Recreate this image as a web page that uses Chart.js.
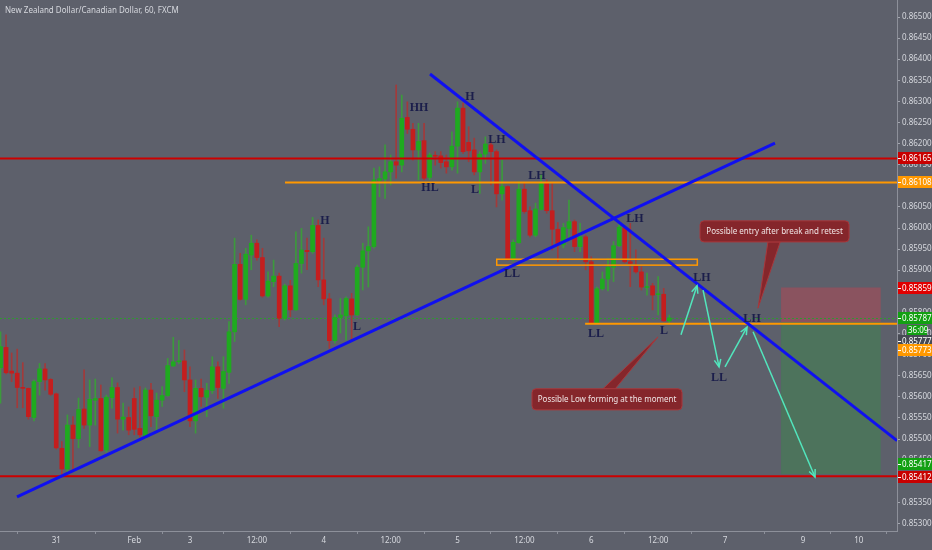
<!DOCTYPE html>
<html>
<head>
<meta charset="utf-8">
<title>NZDCAD 60</title>
<script src="https://cdn.jsdelivr.net/npm/chart.js@4.4.1/dist/chart.umd.min.js"></script>
<style>
  html, body { margin: 0; padding: 0; background: #5d606b; }
  canvas { display: block; }
</style>
</head>
<body>
<canvas id="chart" width="932" height="550"></canvas>
<script>
// x axis: bar index -> day label
const xTickIdx = [10, 24, 34, 46, 58, 70, 82, 94, 106, 118, 130, 144, 154];
const xTickText = ['31', 'Feb', '3', '12:00', '4', '12:00', '5', '12:00', '6', '12:00', '7', '9', '10'];

// y axis ticks
const yTicks = [];
for (let v = 0.853; v < 0.86501; v += 0.0005) yTicks.push(+v.toFixed(5));

// hourly candles
const opens = [
  0.85669, 0.85717, 0.85661, 0.85656, 0.85621, 0.85620, 0.85551, 0.85636, 0.85666, 0.85641,
  0.85607, 0.85478, 0.85429, 0.85533, 0.85501, 0.85571, 0.85533, 0.85592, 0.85596, 0.85474,
  0.85598, 0.85622, 0.85547, 0.85551, 0.85596, 0.85525, 0.85505, 0.85616, 0.85553, 0.85592,
  0.85603, 0.85673, 0.85683, 0.85685, 0.85640, 0.85543, 0.85620, 0.85599, 0.85615, 0.85671,
  0.85620, 0.85658, 0.85754, 0.85914, 0.85831, 0.85936, 0.85964, 0.85930, 0.85839, 0.85873,
  0.85886, 0.85786, 0.85863, 0.85806, 0.85916, 0.85947, 0.85944, 0.86006, 0.85877, 0.85832,
  0.85733, 0.85788, 0.85792, 0.85832, 0.85794, 0.85907, 0.85946, 0.85956, 0.86113, 0.86116,
  0.86133, 0.86157, 0.86149, 0.86262, 0.86234, 0.86185, 0.86207, 0.86120, 0.86172, 0.86171,
  0.86157, 0.86145, 0.86194, 0.86284, 0.86203, 0.86185, 0.86133, 0.86175, 0.86197, 0.86181,
  0.86081, 0.86098, 0.85926, 0.85965, 0.86092, 0.86041, 0.85983, 0.86044, 0.86106, 0.86041,
  0.85997, 0.85960, 0.85999, 0.86015, 0.85956, 0.85979, 0.85920, 0.85775, 0.85856, 0.85879,
  0.85907, 0.85958, 0.86000, 0.85920, 0.85910, 0.85896, 0.85859, 0.85863, 0.85842, 0.85843,
  0.85780
];
const highs = [
  0.85754, 0.85747, 0.85704, 0.85713, 0.85681, 0.85621, 0.85640, 0.85679, 0.85679, 0.85643,
  0.85609, 0.85494, 0.85557, 0.85553, 0.85597, 0.85664, 0.85640, 0.85642, 0.85628, 0.85604,
  0.85645, 0.85633, 0.85585, 0.85576, 0.85621, 0.85624, 0.85621, 0.85632, 0.85609, 0.85624,
  0.85691, 0.85741, 0.85733, 0.85711, 0.85671, 0.85640, 0.85642, 0.85632, 0.85695, 0.85683,
  0.85695, 0.85778, 0.85976, 0.85940, 0.85952, 0.85983, 0.85972, 0.85952, 0.85896, 0.85924,
  0.85893, 0.85867, 0.85876, 0.85991, 0.85999, 0.85976, 0.86025, 0.86019, 0.85976, 0.85845,
  0.85794, 0.85833, 0.85837, 0.85845, 0.85912, 0.85964, 0.86003, 0.86142, 0.86145, 0.86197,
  0.86173, 0.86339, 0.86315, 0.86299, 0.86248, 0.86248, 0.86248, 0.86178, 0.86181, 0.86181,
  0.86173, 0.86228, 0.86299, 0.86296, 0.86240, 0.86213, 0.86181, 0.86216, 0.86205, 0.86185,
  0.86161, 0.86100, 0.85972, 0.86110, 0.86106, 0.86050, 0.86059, 0.86126, 0.86114, 0.86106,
  0.86013, 0.86011, 0.86066, 0.86019, 0.86011, 0.85983, 0.85932, 0.85860, 0.85896, 0.85928,
  0.85968, 0.86015, 0.86005, 0.86011, 0.85948, 0.85908, 0.85893, 0.85869, 0.85885, 0.85857,
  0.85794
];
const lows = [
  0.85585, 0.85654, 0.85636, 0.85574, 0.85574, 0.85547, 0.85543, 0.85604, 0.85616, 0.85603,
  0.85476, 0.85412, 0.85415, 0.85423, 0.85479, 0.85525, 0.85482, 0.85533, 0.85471, 0.85469,
  0.85573, 0.85514, 0.85521, 0.85510, 0.85510, 0.85505, 0.85502, 0.85529, 0.85521, 0.85577,
  0.85601, 0.85672, 0.85679, 0.85612, 0.85529, 0.85514, 0.85577, 0.85553, 0.85608, 0.85596,
  0.85573, 0.85632, 0.85731, 0.85829, 0.85818, 0.85901, 0.85924, 0.85836, 0.85836, 0.85861,
  0.85766, 0.85782, 0.85790, 0.85805, 0.85893, 0.85901, 0.85940, 0.85861, 0.85818, 0.85715,
  0.85727, 0.85751, 0.85735, 0.85735, 0.85792, 0.85853, 0.85860, 0.85952, 0.86074, 0.86070,
  0.86102, 0.86118, 0.86133, 0.86224, 0.86161, 0.86114, 0.86114, 0.86114, 0.86149, 0.86142,
  0.86130, 0.86137, 0.86130, 0.86177, 0.86157, 0.86126, 0.86082, 0.86153, 0.86102, 0.86050,
  0.86066, 0.85924, 0.85922, 0.85964, 0.86035, 0.85979, 0.85979, 0.86043, 0.86035, 0.85948,
  0.85920, 0.85953, 0.85976, 0.85944, 0.85944, 0.85901, 0.85773, 0.85773, 0.85853, 0.85851,
  0.85873, 0.85956, 0.85917, 0.85861, 0.85893, 0.85853, 0.85841, 0.85806, 0.85794, 0.85778,
  0.85774
];
const closes = [
  0.85719, 0.85657, 0.85656, 0.85622, 0.85620, 0.85553, 0.85636, 0.85666, 0.85640, 0.85606,
  0.85479, 0.85429, 0.85533, 0.85501, 0.85570, 0.85533, 0.85594, 0.85596, 0.85472, 0.85599,
  0.85622, 0.85547, 0.85552, 0.85521, 0.85523, 0.85510, 0.85616, 0.85555, 0.85592, 0.85603,
  0.85674, 0.85683, 0.85684, 0.85640, 0.85543, 0.85620, 0.85600, 0.85615, 0.85671, 0.85622,
  0.85660, 0.85754, 0.85914, 0.85831, 0.85938, 0.85964, 0.85930, 0.85839, 0.85874, 0.85886,
  0.85786, 0.85863, 0.85806, 0.85916, 0.85948, 0.85944, 0.86006, 0.85877, 0.85832, 0.85733,
  0.85788, 0.85794, 0.85833, 0.85794, 0.85907, 0.85946, 0.85956, 0.86114, 0.86117, 0.86133,
  0.86157, 0.86149, 0.86260, 0.86234, 0.86185, 0.86205, 0.86118, 0.86173, 0.86170, 0.86155,
  0.86145, 0.86194, 0.86284, 0.86181, 0.86183, 0.86133, 0.86175, 0.86199, 0.86181, 0.86081,
  0.86098, 0.85926, 0.85966, 0.86092, 0.86039, 0.85983, 0.86045, 0.86106, 0.86041, 0.85997,
  0.85960, 0.86001, 0.86015, 0.85956, 0.85979, 0.85920, 0.85774, 0.85856, 0.85879, 0.85907,
  0.85958, 0.86002, 0.85920, 0.85916, 0.85896, 0.85860, 0.85861, 0.85841, 0.85844, 0.85780,
  0.85787
];

// horizontal levels
const redLevels = [0.86165, 0.85412];
const orangeLevels = [0.86108, 0.85773];
const orangeFrom = [51.05, 104.9];       // bar index where each orange level starts
const lastPrice = 0.85787;

// drawn tools, as [bar index, price]
const trendUp = [[2.96, 0.85363], [138.97, 0.86201]];
const trendDown = [[77.07, 0.86365], [160.87, 0.85496]];
const zoneBox = [[89.04, 0.85926], [125.03, 0.85912]];
const stopBox = [[140.05, 0.85859], [157.94, 0.85777]];
const targetBox = [[140.05, 0.85777], [157.94, 0.85417]];
const pathArrows = [
  [[122.1, 0.85747], [124.98, 0.85863]],
  [[126.06, 0.85853], [128.93, 0.85671]],
  [[130.0, 0.85671], [133.95, 0.85765]],
  [[135.03, 0.85754], [146.15, 0.85410]]
];

// swing labels
const swingText = ['H', 'L', 'HH', 'H', 'LH', 'HL', 'L', 'LH', 'LL', 'LH', 'LH', 'LL', 'L', 'LL', 'LH'];
const swingIdx = [58.23, 63.97, 75.1, 84.25, 89.09, 77.07, 85.14, 96.27, 91.78, 113.85, 125.87, 106.85, 119.06, 128.93, 134.85];
const swingPrice = [0.86017, 0.85765, 0.86284, 0.86310, 0.86209, 0.86095, 0.86090, 0.86123, 0.85891, 0.86021, 0.85882, 0.85749, 0.85756, 0.85645, 0.85784];

// callouts: text, box corners, pointer base (two bar indexes), pointer tip
const noteText = ['Possible entry after break and retest', 'Possible Low forming at the moment'];
const noteBox = [[[125.52, 0.86017], [152.26, 0.85967]], [[95.37, 0.85619], [122.29, 0.85569]]];
const noteBase = [[137.7, 139.9], [108.1, 110.3]];
const noteTip = [[135.92, 0.85810], [117.98, 0.85742]];

// right axis price tags
const tagValues = [0.86165, 0.86108, 0.85859, 0.85787, 0.85777, 0.85773, 0.85417, 0.85412];
const countdown = '36:09';

// ---- styles ----
const BG = '#5d606b';
const FONT = '"Noto Sans", "Open Sans", sans-serif';
const TEXT = '#d6d8de';
const UP = '#1faa1f', DOWN = '#c41e1e';
const UP_WICK = '#3c9a3c', DOWN_WICK = '#a33a3a';
const tagColor = ['#c80000', '#ff9800', '#e00000', '#12a012', '#474a54', '#ff9800', '#12a012', '#c80000'];
const tagShift = [0, 0, 0, 0, 19, 26, -10, 1];

const X_MIN = -0.09, X_MAX = 160.86;
const Y_MIN = 0.852820, Y_MAX = 0.865403;

const barIdx = opens.map((_, i) => i);

function arrow(ctx, x1, y1, x2, y2) {
    ctx.beginPath();
    ctx.moveTo(x1, y1);
    ctx.lineTo(x2, y2);
    ctx.stroke();
    const a = Math.atan2(y2 - y1, x2 - x1), L = 8, s = 0.42;
    ctx.beginPath();
    ctx.moveTo(x2 - L * Math.cos(a - s), y2 - L * Math.sin(a - s));
    ctx.lineTo(x2, y2);
    ctx.lineTo(x2 - L * Math.cos(a + s), y2 - L * Math.sin(a + s));
    ctx.stroke();
}

// scales must not pad the plot area for their edge labels
function noPad(s) {
    s.paddingTop = 0;
    s.paddingBottom = 0;
    s.paddingLeft = 0;
    s.paddingRight = 0;
}

const drawings = {
    id: 'drawings',
    beforeDraw(chart) {
        const { ctx, width, height } = chart;
        ctx.save();
        ctx.fillStyle = BG;
        ctx.fillRect(0, 0, width, height);
        ctx.restore();
    },
    beforeDatasetsDraw(chart) {
        const { ctx, chartArea: a, scales: { x, y } } = chart;
        ctx.save();
        ctx.beginPath();
        ctx.rect(a.left, a.top, a.right - a.left, a.bottom - a.top);
        ctx.clip();

        // long position tool
        const box = (b, fill) => {
            const x1 = x.getPixelForValue(b[0][0]), x2 = x.getPixelForValue(b[1][0]);
            const y1 = y.getPixelForValue(b[0][1]), y2 = y.getPixelForValue(b[1][1]);
            ctx.fillStyle = fill;
            ctx.fillRect(x1, y1, x2 - x1, y2 - y1);
        };
        box(stopBox, 'rgba(242, 54, 69, 0.30)');
        box(targetBox, 'rgba(40, 160, 60, 0.30)');

        // last price dotted line
        const ly = Math.round(y.getPixelForValue(lastPrice)) + 0.5;
        ctx.strokeStyle = '#2f9a2f';
        ctx.lineWidth = 1;
        ctx.setLineDash([2, 2]);
        ctx.beginPath();
        ctx.moveTo(a.left, ly);
        ctx.lineTo(a.right, ly);
        ctx.stroke();
        ctx.restore();
    },
    afterDatasetsDraw(chart) {
        const { ctx, chartArea: a, scales: { x, y } } = chart;
        const px = v => x.getPixelForValue(v), py = v => y.getPixelForValue(v);
        ctx.save();
        ctx.beginPath();
        ctx.rect(a.left, a.top, a.right - a.left, a.bottom - a.top);
        ctx.clip();

        // horizontal levels
        ctx.lineWidth = 2;
        ctx.strokeStyle = '#cc0000';
        redLevels.forEach(v => {
            ctx.beginPath();
            ctx.moveTo(a.left, py(v));
            ctx.lineTo(a.right, py(v));
            ctx.stroke();
        });
        ctx.strokeStyle = '#ff9800';
        orangeLevels.forEach((v, k) => {
            ctx.beginPath();
            ctx.moveTo(px(orangeFrom[k]), py(v));
            ctx.lineTo(a.right, py(v));
            ctx.stroke();
        });
        ctx.lineWidth = 1.5;
        ctx.strokeRect(px(zoneBox[0][0]), py(zoneBox[0][1]),
            px(zoneBox[1][0]) - px(zoneBox[0][0]), py(zoneBox[1][1]) - py(zoneBox[0][1]));

        // trend lines
        ctx.strokeStyle = '#1010f0';
        ctx.lineWidth = 3;
        [trendUp, trendDown].forEach(t => {
            ctx.beginPath();
            ctx.moveTo(px(t[0][0]), py(t[0][1]));
            ctx.lineTo(px(t[1][0]), py(t[1][1]));
            ctx.stroke();
        });

        // projected path
        ctx.strokeStyle = '#52e6bd';
        ctx.lineWidth = 1.5;
        pathArrows.forEach(p => arrow(ctx, px(p[0][0]), py(p[0][1]), px(p[1][0]), py(p[1][1])));

        // swing labels
        ctx.fillStyle = '#1b1e4b';
        ctx.font = 'bold 12px "Liberation Serif", "DejaVu Serif", serif';
        ctx.textAlign = 'center';
        ctx.textBaseline = 'middle';
        swingText.forEach((t, k) => ctx.fillText(t, px(swingIdx[k]), py(swingPrice[k])));

        // callouts
        noteText.forEach((t, k) => {
            const b = noteBox[k];
            const x1 = px(b[0][0]), x2 = px(b[1][0]), y1 = py(b[0][1]), y2 = py(b[1][1]);
            const baseY = py(noteTip[k][1]) > y2 ? y2 : y1;
            ctx.fillStyle = '#85262b';
            ctx.strokeStyle = '#a8383c';
            ctx.lineWidth = 1;
            ctx.beginPath();
            ctx.moveTo(px(noteBase[k][0]), baseY);
            ctx.lineTo(px(noteTip[k][0]), py(noteTip[k][1]));
            ctx.lineTo(px(noteBase[k][1]), baseY);
            ctx.closePath();
            ctx.fill();
            ctx.stroke();
            ctx.beginPath();
            ctx.roundRect(x1, y1, x2 - x1, y2 - y1, 4);
            ctx.fill();
            ctx.stroke();
            ctx.fillStyle = '#efe4e4';
            ctx.font = '8px ' + FONT;
            ctx.fillText(t, (x1 + x2) / 2, (y1 + y2) / 2 + 0.5);
        });
        ctx.restore();

        // symbol title
        ctx.save();
        ctx.fillStyle = TEXT;
        ctx.font = '8px ' + FONT;
        ctx.textAlign = 'left';
        ctx.textBaseline = 'middle';
        ctx.fillText('New Zealand Dollar/Canadian Dollar, 60, FXCM', 5, 11);
        ctx.restore();
    },
    afterDraw(chart) {
        const { ctx, chartArea: a, scales: { y } } = chart;
        ctx.save();
        ctx.font = '8px ' + FONT;
        ctx.textAlign = 'left';
        ctx.textBaseline = 'middle';
        tagValues.forEach((v, k) => {
            const cy = Math.round(y.getPixelForValue(v)) + tagShift[k];
            ctx.fillStyle = tagColor[k];
            ctx.fillRect(a.right + 1, cy - 6, 35, 12);
            ctx.fillStyle = '#ffffff';
            ctx.fillRect(a.right + 1, cy, 3, 1);
            ctx.fillText(v.toFixed(5), a.right + 5, cy + 0.5);
            if (k === 3) {
                const cy2 = cy + 12;
                ctx.fillStyle = tagColor[k];
                ctx.fillRect(a.right + 10, cy2 - 5, 20, 11);
                ctx.fillStyle = '#ffffff';
                ctx.fillText(countdown, a.right + 11, cy2 + 0.5);
            }
        });
        ctx.restore();
    }
};

new Chart(document.getElementById('chart'), {
    type: 'bar',
    data: {
        datasets: [
            {
                label: 'body',
                data: barIdx.map(i => ({ x: i, y: [opens[i], closes[i]] })),
                backgroundColor: barIdx.map(i => closes[i] >= opens[i] ? UP : DOWN),
                barThickness: 4,
                minBarLength: 1
            },
            {
                label: 'wick',
                data: barIdx.map(i => ({ x: i, y: [lows[i], highs[i]] })),
                backgroundColor: barIdx.map(i => closes[i] >= opens[i] ? UP_WICK : DOWN_WICK),
                barThickness: 1,
                minBarLength: 1
            }
        ]
    },
    options: {
        responsive: false,
        animation: false,
        devicePixelRatio: 1,
        events: [],
        layout: { padding: 0 },
        datasets: { bar: { grouped: false, borderWidth: 0 } },
        plugins: { legend: { display: false }, tooltip: { enabled: false }, title: { display: false } },
        scales: {
            x: {
                type: 'linear',
                min: X_MIN,
                max: X_MAX,
                offset: false,
                bounds: 'data',
                afterFit: s => { s.height = 19; noPad(s); },
                afterBuildTicks: s => { s.ticks = xTickIdx.map(v => ({ value: v })); },
                grid: { drawOnChartArea: false, drawTicks: true, tickLength: 3, color: '#8d909a' },
                border: { display: true, color: '#8d909a' },
                ticks: {
                    autoSkip: false,
                    maxRotation: 0,
                    padding: 2,
                    color: TEXT,
                    font: { size: 8, family: FONT },
                    callback: (v, i) => xTickText[i]
                }
            },
            y: {
                type: 'linear',
                position: 'right',
                min: Y_MIN,
                max: Y_MAX,
                bounds: 'data',
                afterFit: s => { s.width = 35; noPad(s); },
                afterBuildTicks: s => { s.ticks = yTicks.map(v => ({ value: v })); },
                grid: { drawOnChartArea: false, drawTicks: true, tickLength: 3, color: '#a3a6af' },
                border: { display: true, color: '#8d909a' },
                ticks: {
                    autoSkip: false,
                    padding: 2,
                    color: TEXT,
                    font: { size: 8, family: FONT },
                    callback: v => v.toFixed(5)
                }
            }
        }
    },
    plugins: [drawings]
});
</script>
</body>
</html>
